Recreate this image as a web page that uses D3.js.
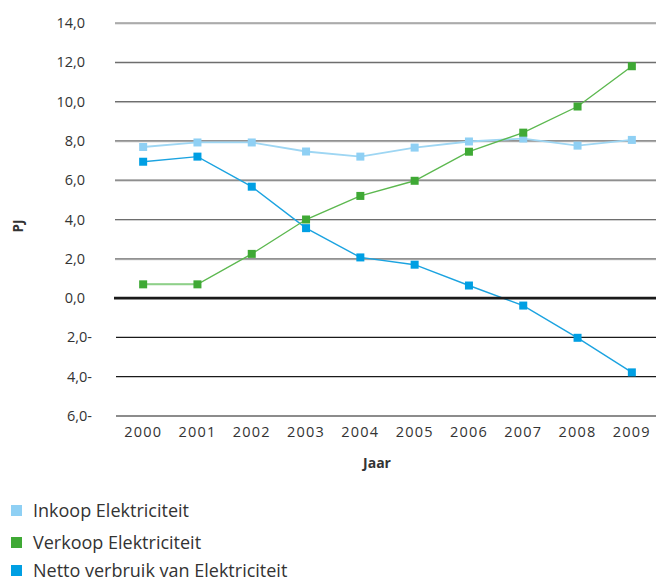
<!DOCTYPE html>
<html><head><meta charset="utf-8">
<script src="https://cdn.jsdelivr.net/npm/d3@7"></script>
<style>
body{margin:0;background:#fff;}
text{font-family:"Open Sans","Noto Sans",sans-serif;fill:#333;}
</style></head>
<body>
<svg id="chart" width="656" height="583"></svg>
<script>
const years = ["2000","2001","2002","2003","2004","2005","2006","2007","2008","2009"];
const inkoop = [7.69,7.92,7.92,7.46,7.2,7.66,7.97,8.12,7.76,8.05];
const verkoop = [0.7,0.7,2.25,4.0,5.2,5.97,7.45,8.42,9.75,11.8];
const netto = [6.94,7.2,5.67,3.56,2.07,1.7,0.64,-0.38,-2.02,-3.78];
const yTicks = [14,12,10,8,6,4,2,0,-2,-4,-6];
const seriesNames = ["Inkoop Elektriciteit","Verkoop Elektriciteit","Netto verbruik van Elektriciteit"];
const seriesColors = ["#8fd0f4","#3fa935","#009fe3"];
const lineColors = ["#9ed6f3","#5cb84f","#1ba3e0"];

const svg = d3.select("#chart");
const x = d3.scalePoint().domain(years).range([116,659]).padding(0.5);
const y = d3.scaleLinear().domain([-6,14]).range([416,23]);
const fmt = v => (Math.abs(v).toFixed(1).replace(".", ",")) + (v<0 ? "-" : "");

// grid
const g = svg.append("g");
yTicks.forEach(t => {
  if (t > 0) {
    g.append("line").attr("x1",115).attr("x2",656).attr("y1",y(t)+1).attr("y2",y(t)+1)
      .attr("stroke","#d0d0d0").attr("stroke-width",1);
    g.append("line").attr("x1",115).attr("x2",656).attr("y1",y(t)).attr("y2",y(t))
      .attr("stroke","#6e6e6e").attr("stroke-width",1.2);
  } else if (t < 0) {
    g.append("line").attr("x1",116).attr("x2",656).attr("y1",y(t)).attr("y2",y(t))
      .attr("stroke","#1a1a1a").attr("stroke-width",1.2);
  }
});
// y labels
yTicks.forEach(t => {
  svg.append("text").attr("x", t<0 ? 92 : 85).attr("y", y(t)+5)
    .attr("text-anchor","end").attr("font-size",14.5).text(fmt(t));
});
// x labels
years.forEach(yr => {
  svg.append("text").attr("x", x(yr)).attr("y", 437).attr("text-anchor","middle")
    .attr("font-size",14.5).attr("letter-spacing",1.2).text(yr);
});
svg.append("text").attr("x",377).attr("y",468).attr("text-anchor","middle")
  .attr("font-size",14).attr("font-weight","bold").text("Jaar");
svg.append("text").attr("transform","translate(23,226) rotate(-90)").attr("text-anchor","middle")
  .attr("font-size",13.5).attr("font-weight","bold").text("PJ");

// series
const allData = [inkoop, verkoop, netto];
const order = [0,2,1];
const line = d3.line().x((d,i)=>x(years[i])).y(d=>y(d));
order.forEach(si => {
  svg.append("path").datum(allData[si]).attr("d", line).attr("fill","none")
    .attr("stroke", lineColors[si]).attr("stroke-width", si===0 ? 1.8 : 1.4);
});
// light first segment of verkoop
svg.append("path").datum(verkoop.slice(0,2)).attr("d", line).attr("fill","none")
  .attr("stroke","#8fd08a").attr("stroke-width",2);
// zero line
svg.append("line").attr("x1",114).attr("x2",656).attr("y1",y(0)).attr("y2",y(0))
  .attr("stroke","#1a1a1a").attr("stroke-width",2.6);
order.forEach(si => {
  svg.append("g").selectAll("rect").data(allData[si]).join("rect")
    .attr("x",(d,i)=>x(years[i])-4).attr("y",d=>y(d)-4)
    .attr("width",8).attr("height",8).attr("fill",seriesColors[si]);
});

// legend
const legendY = [511, 543, 571];
seriesNames.forEach((n,i) => {
  const cy = legendY[i];
  svg.append("rect").attr("x",11).attr("y",cy-6).attr("width",11).attr("height",11)
    .attr("fill",seriesColors[i]);
  svg.append("text").attr("x",33).attr("y",cy+6).attr("font-size",18).text(n);
});
</script>
</body></html>
